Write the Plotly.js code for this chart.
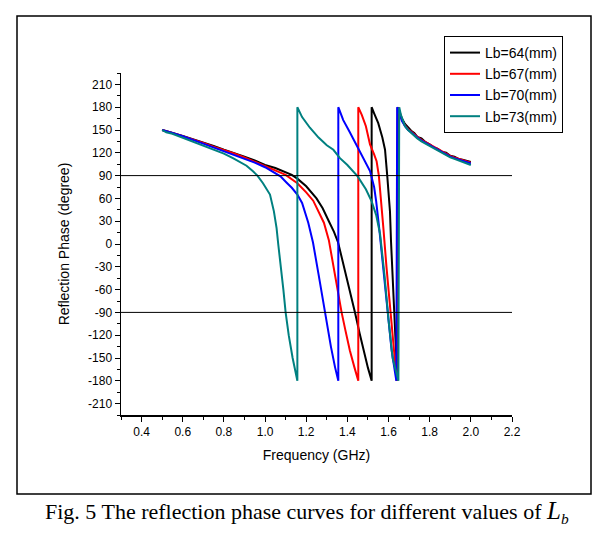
<!DOCTYPE html>
<html>
<head>
<meta charset="utf-8">
<script src="https://cdn.plot.ly/plotly-3.0.1.min.js"></script>
<style>
html,body{margin:0;padding:0;background:#fff;}
#chart{width:611px;height:541px;}
</style>
</head>
<body>
<div id="chart"></div>
<script>
// Lb = 64 mm (black)
var freq64 = [0.50,0.52,0.55,0.60,0.65,0.70,0.75,0.80,0.85,0.90,0.95,1.00,1.05,1.10,1.13,1.157,1.20,1.25,1.28,1.31,1.335,1.355,1.38,1.41,1.437,1.46,1.48,1.50,1.518,
  1.518,1.53,1.55,1.57,1.583,1.594,1.600,1.607,1.612,1.620,1.631,1.638,1.643,
  1.646,1.655,1.665,1.680,1.695,1.710,1.725,1.740,1.760,1.780,1.800,1.820,1.840,1.860,1.880,1.900,1.920,1.940,1.960,1.980,2.000];
var phase64 = [150,148,146,142,138,133,129,124,120,115,110,104,100,95,91,86,76,60,47,30,16,2,-25,-60,-90,-118,-142,-163,-180,
  180,172,159,140,124,89,65,43,4,-45,-91,-150,-180,
  180,174,165,158,153,149,146,141,139,134,131,127,125,121,120,116,115,112,111,109,108];

// Lb = 67 mm (red)
var freq67 = [0.50,0.52,0.55,0.60,0.65,0.70,0.75,0.80,0.85,0.90,0.95,1.00,1.05,1.10,1.157,1.20,1.234,1.26,1.286,1.31,1.34,1.372,1.39,1.412,1.435,1.453,
  1.453,1.47,1.49,1.51,1.53,1.542,1.553,1.565,1.575,1.59,1.61,1.625,1.640,
  1.644,1.655,1.665,1.680,1.695,1.710,1.725,1.740,1.760,1.780,1.800,1.820,1.840,1.860,1.880,1.900,1.920,1.940,1.960,1.980,2.000];
var phase67 = [150,148,146,142,138,133,128,124,119,114,108,103,97,91,80,68,57,43,28,5,-42,-90,-113,-140,-163,-180,
  180,170,155,131,118,109,90,55,21,-30,-90,-140,-180,
  180,172,163,156,151,148,144,141,137,134,130,127,124,121,119,116,114,112,110,109,107];

// Lb = 70 mm (blue)
var freq70 = [0.50,0.52,0.55,0.60,0.65,0.70,0.75,0.80,0.85,0.90,0.95,1.00,1.04,1.075,1.104,1.13,1.157,1.18,1.21,1.233,1.26,1.29,1.32,1.34,1.356,
  1.356,1.38,1.41,1.453,1.49,1.51,1.53,1.54,1.555,1.57,1.59,1.615,1.638,
  1.642,1.655,1.665,1.680,1.695,1.710,1.725,1.740,1.760,1.780,1.800,1.820,1.840,1.860,1.880,1.900,1.920,1.940,1.960,1.980,2.000];
var phase70 = [150,148,146,142,137,132,127,123,118,113,107,101,95,89,81,74,65,54,28,2,-40,-90,-135,-162,-180,
  180,163,148,126,108,96,75,56,20,-20,-80,-140,-180,
  180,171,162,155,150,147,143,140,136,133,129,126,123,120,118,115,113,111,109,107,106];

// Lb = 73 mm (teal)
var freq73 = [0.50,0.52,0.55,0.60,0.65,0.70,0.75,0.80,0.844,0.88,0.91,0.94,0.963,0.99,1.024,1.043,1.056,1.064,1.078,1.089,1.10,1.115,1.134,1.157,
  1.157,1.18,1.218,1.26,1.30,1.332,1.364,1.40,1.45,1.49,1.518,1.54,1.559,1.58,1.60,1.62,1.648,
  1.652,1.660,1.670,1.680,1.695,1.710,1.725,1.740,1.760,1.780,1.800,1.820,1.840,1.860,1.880,1.900,1.920,1.940,1.960,1.980,2.000];
var phase73 = [150,147,145,140,135,130,125,119,113,108,103,96,90,80,65,43,21,0,-30,-60,-90,-120,-150,-180,
  180,167,153,140,130,124,113,104,89,72,56,38,13,-40,-100,-150,-180,
  180,170,162,155,150,146,142,139,135,132,128,125,122,119,117,114,112,110,108,106,104];

var seriesNames = ["Lb=64(mm)","Lb=67(mm)","Lb=70(mm)","Lb=73(mm)"];
var seriesColors = ["#000000","#ff0000","#0000ff","#008080"];

var yTickVals = [-210,-180,-150,-120,-90,-60,-30,0,30,60,90,120,150,180,210];
var yTickText = ["-210","-180","-150","-120","-90","-60","-30","0","30","60","90","120","150","180","210"];
var xTickVals = [0.4,0.6,0.8,1.0,1.2,1.4,1.6,1.8,2.0,2.2];
var xTickText = ["0.4","0.6","0.8","1.0","1.2","1.4","1.6","1.8","2.0","2.2"];
var refLines = [90,-90];

var xs = [freq64,freq67,freq70,freq73];
var ys = [phase64,phase67,phase70,phase73];

var traces = xs.map(function(x,i){
  return {x:x, y:ys[i], type:"scatter", mode:"lines", name:seriesNames[i],
          line:{color:seriesColors[i], width:2}};
});

var font = "Liberation Sans, Arial, sans-serif";

var shapes = refLines.map(function(v){
  return {type:"line", xref:"paper", yref:"y", x0:0, x1:1, y0:v, y1:v,
          line:{color:"#000", width:1}};
});
// outer frame
shapes.push({type:"rect", xref:"paper", yref:"paper",
  x0:(17-121)/391, x1:(591-121)/391, y0:(415-494)/342, y1:(415-16)/342,
  line:{color:"#000", width:1.5}, fillcolor:"rgba(0,0,0,0)", layer:"above"});

var layout = {
  width:611, height:541,
  margin:{l:121, r:99, t:73, b:126},
  paper_bgcolor:"#fff", plot_bgcolor:"#fff",
  font:{family:font, size:12, color:"#000"},
  showlegend:true,
  legend:{x:(444-121)/391, xanchor:"left", y:(415-36)/342, yanchor:"top",
          bgcolor:"#fff", bordercolor:"#000", borderwidth:1,
          font:{family:font, size:14, color:"#000"}, tracegroupgap:0},
  xaxis:{range:[0.3,2.2], showgrid:false, zeroline:false, showline:true,
         linecolor:"#000", linewidth:1.5, ticks:"outside", ticklen:5, tickwidth:1,
         tickcolor:"#000", tickvals:xTickVals, ticktext:xTickText,
         tickfont:{family:font, size:12},
         minor:{dtick:0.1, tick0:0.3, ticks:"outside", ticklen:3, tickwidth:1, tickcolor:"#000"},
         title:{text:"Frequency (GHz)", font:{family:font, size:14}, standoff:12}},
  yaxis:{range:[-225,225], showgrid:false, zeroline:false, showline:true,
         linecolor:"#000", linewidth:1.5, ticks:"outside", ticklen:5, tickwidth:1,
         tickcolor:"#000", tickvals:yTickVals, ticktext:yTickText,
         tickfont:{family:font, size:12},
         minor:{dtick:15, tick0:-225, ticks:"outside", ticklen:3, tickwidth:1, tickcolor:"#000"},
         title:{text:"Reflection Phase (degree)", font:{family:font, size:14}, standoff:15}},
  shapes:shapes,
  annotations:[{
    xref:"paper", yref:"paper", x:(307-121)/391, y:(415-512)/342,
    xanchor:"center", yanchor:"middle", showarrow:false,
    text:"Fig. 5 The reflection phase curves for different values of <span style=\"font-size:25px\"><i>L</i></span><sub><i>b</i></sub>",
    font:{family:"Liberation Serif, Times New Roman, serif", size:22, color:"#000"}
  }]
};

Plotly.newPlot("chart", traces, layout, {staticPlot:true, displayModeBar:false});
</script>
</body>
</html>
